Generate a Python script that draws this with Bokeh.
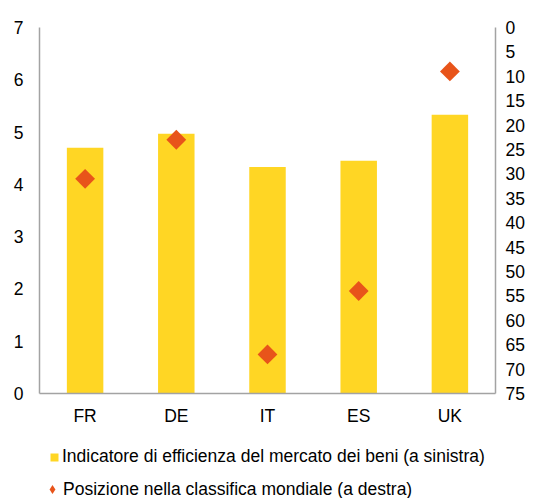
import math
from bokeh.plotting import figure
from bokeh.layouts import column
from bokeh.models import (Range1d, LinearAxis, FixedTicker, FactorRange, Legend,
                          LegendItem, ColumnDataSource)
from bokeh.embed import file_html
from bokeh.resources import INLINE

countries = ["FR", "DE", "IT", "ES", "UK"]
indicator = [4.70, 4.97, 4.33, 4.45, 5.33]
rank = [31, 23, 67, 54, 9]
left_ticks = [0, 1, 2, 3, 4, 5, 6, 7]
right_ticks = [0, 5, 10, 15, 20, 25, 30, 35, 40, 45, 50, 55, 60, 65, 70, 75]
label_bar = "Indicatore di efficienza del mercato dei beni (a sinistra)"
label_rank = "Posizione nella classifica mondiale (a destra)"

YELLOW = "#FFD624"
ORANGE = "#E8541A"
AXIS = "#A3A3A3"
FONT = "Liberation Sans"
FSIZE = "17.5px"
TXT = "#000000"

src = ColumnDataSource(dict(country=countries, indicator=indicator, rank=rank))

# ---------------- main chart ----------------
p = figure(x_range=FactorRange(factors=countries, range_padding=0),
           y_range=Range1d(0, 7), width=534, height=438,
           output_backend="svg", toolbar_location=None,
           min_border_left=39, min_border_right=39,
           min_border_top=27, min_border_bottom=45)
p.extra_y_ranges = {"rank": Range1d(start=75, end=0)}
p.outline_line_color = None
p.xgrid.grid_line_color = None
p.ygrid.grid_line_color = None
p.background_fill_color = "white"
p.border_fill_color = "white"

p.vbar(x="country", top="indicator", width=0.4, source=src,
       fill_color=YELLOW, line_color=None)
p.scatter(x="country", y="rank", source=src, y_range_name="rank",
          marker="square", angle=math.pi / 4, size=14,
          fill_color=ORANGE, line_color=None)

def style(ax, standoff):
    ax.major_tick_line_color = None
    ax.minor_tick_line_color = None
    ax.major_tick_out = 0
    ax.major_tick_in = 0
    ax.minor_tick_out = 0
    ax.axis_line_color = AXIS
    ax.axis_line_width = 1.5
    ax.major_label_text_font = FONT
    ax.major_label_text_font_size = FSIZE
    ax.major_label_text_color = TXT
    ax.major_label_standoff = standoff

yl = p.yaxis[0]
yl.ticker = FixedTicker(ticks=left_ticks)
style(yl, 16)

yr = LinearAxis(y_range_name="rank", ticker=FixedTicker(ticks=right_ticks))
style(yr, 10)
p.add_layout(yr, "right")

style(p.xaxis[0], 12)

# ---------------- legend strip ----------------
lg = figure(x_range=FactorRange(factors=countries), y_range=Range1d(1000, 1001),
            width=534, height=60, output_backend="svg", toolbar_location=None,
            x_axis_type=None, y_axis_type=None, min_border=0)
lg.outline_line_color = None
lg.background_fill_color = "white"
lg.border_fill_color = "white"
lbars = lg.vbar(x="country", top="indicator", width=0.4, source=src,
                fill_color=YELLOW, line_color=None)
lpts = lg.scatter(x="country", y="rank", source=src,
                  marker="diamond", size=14,
                  fill_color=ORANGE, line_color=None)

common = dict(orientation="horizontal", padding=0, margin=0,
              border_line_color=None, background_fill_alpha=0,
              label_text_font=FONT, label_text_font_size=FSIZE,
              label_text_color=TXT)
leg1 = Legend(items=[LegendItem(label=label_bar, renderers=[lbars])],
              location=(10, 31), glyph_width=10, glyph_height=10,
              label_height=20, label_standoff=3, **common)
leg2 = Legend(items=[LegendItem(label=label_rank, renderers=[lpts])],
              location=(2, -2), glyph_width=22, glyph_height=22,
              label_height=22, label_standoff=0, **common)
lg.add_layout(leg1, "center")
lg.add_layout(leg2, "center")

layout = column(p, lg, spacing=0)
open("out.html", "w").write(file_html(layout, INLINE))
